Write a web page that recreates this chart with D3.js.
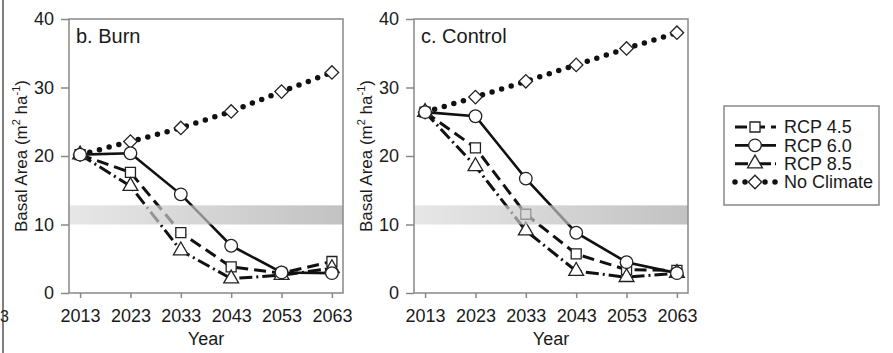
<!DOCTYPE html>
<html>
<head>
<meta charset="utf-8">
<script src="https://cdn.jsdelivr.net/npm/d3@7"></script>
<style>
  body { margin: 0; background: #fff; }
  svg { font-family: "Liberation Sans", Arial, sans-serif; }
</style>
</head>
<body>
<div id="chart"></div>
<script>
// years on x, basal area on y
const years = [2013, 2023, 2033, 2043, 2053, 2063];
const yTicks = [0, 10, 20, 30, 40];

const seriesNames = ["RCP 4.5", "RCP 6.0", "RCP 8.5", "No Climate"];

// b. Burn
const burnRcp45 = [20.2, 17.6, 8.8, 3.8, 2.9, 4.6];
const burnRcp60 = [20.2, 20.4, 14.4, 6.9, 3.0, 2.9];
const burnRcp85 = [20.2, 15.6, 6.2, 2.1, 2.6, 3.6];
const burnNoClim = [20.2, 22.1, 24.1, 26.5, 29.4, 32.2];

// c. Control
const ctrlRcp45 = [26.4, 21.2, 11.5, 5.7, 3.4, 3.3];
const ctrlRcp60 = [26.4, 25.8, 16.7, 8.8, 4.5, 2.9];
const ctrlRcp85 = [26.4, 18.5, 9.1, 3.2, 2.3, 2.9];
const ctrlNoClim = [26.4, 28.6, 30.9, 33.3, 35.7, 38.0];

// target band
const band = [10, 12.8];

const svgWidth = 893, svgHeight = 353;

const svg = d3.select("#chart").append("svg")
    .attr("width", svgWidth)
    .attr("height", svgHeight);

const defs = svg.append("defs");
const grad = defs.append("linearGradient").attr("id", "bandGrad")
    .attr("x1", "0%").attr("x2", "100%").attr("y1", "0%").attr("y2", "0%");
grad.append("stop").attr("offset", "0%").attr("stop-color", "#dddddd");
grad.append("stop").attr("offset", "100%").attr("stop-color", "#a8a8a8");

// line styles per series
const styles = {
    "RCP 4.5": {dash: "12,6", width: 3, cap: "butt", marker: d3.symbolSquare, size: 100, rot: 0},
    "RCP 6.0": {dash: null, width: 2.6, cap: "butt", marker: d3.symbolCircle, size: 125, rot: 0},
    "RCP 8.5": {dash: "13,4,2,4", width: 3, cap: "butt", marker: d3.symbolTriangle, size: 95, rot: 0},
    "No Climate": {dash: "0,10", width: 5.5, cap: "round", marker: d3.symbolSquare, size: 90, rot: 45}
};

// thin left border from the cropped figure
svg.append("line").attr("x1", 3).attr("x2", 3).attr("y1", 0).attr("y2", svgHeight)
    .attr("stroke", "#555").attr("stroke-width", 1.5);
svg.append("text").attr("x", 0).attr("y", 322).attr("font-size", 16).attr("fill", "#222").text("3");

function drawPanel(left, title, data) {
    const width = 274, top = 19, bottom = 293;
    const x = d3.scaleLinear().domain([2010.8, 2065.2]).range([left, left + width]);
    const y = d3.scaleLinear().domain([0, 40]).range([bottom, top]);

    const g = svg.append("g");

    // lines
    const line = d3.line().x((d, i) => x(years[i])).y(d => y(d));
    const order = ["No Climate", "RCP 4.5", "RCP 8.5", "RCP 6.0"];
    order.forEach(name => {
        const s = styles[name];
        g.append("path")
            .attr("d", line(data[name]))
            .attr("fill", "none")
            .attr("stroke", "#111")
            .attr("stroke-width", s.width)
            .attr("stroke-linecap", s.cap)
            .attr("stroke-dasharray", s.dash);
    });
    order.forEach(name => {
        const s = styles[name];
        g.selectAll(null).data(data[name]).enter().append("path")
            .attr("transform", (d, i) => `translate(${x(years[i])},${y(d)}) rotate(${s.rot})`)
            .attr("d", d3.symbol().type(s.marker).size(s.size))
            .attr("fill", "#fff")
            .attr("stroke", "#222")
            .attr("stroke-width", 1.3);
    });

    // grey band over the lines
    g.append("rect")
        .attr("x", left).attr("width", width)
        .attr("y", y(band[1])).attr("height", y(band[0]) - y(band[1]))
        .attr("fill", "url(#bandGrad)")
        .attr("opacity", 0.7);

    // frame
    g.append("rect").attr("x", left).attr("y", top).attr("width", width).attr("height", bottom - top)
        .attr("fill", "none").attr("stroke", "#888").attr("stroke-width", 1.5);

    const xAxis = g.append("g").attr("transform", `translate(0,${bottom})`)
        .call(d3.axisBottom(x).tickValues(years).tickFormat(d3.format("d")).tickSize(5).tickSizeOuter(0).tickPadding(12));
    xAxis.select(".domain").remove();
    const yAxis = g.append("g").attr("transform", `translate(${left},0)`)
        .call(d3.axisLeft(y).tickValues(yTicks).tickSize(8).tickSizeOuter(0).tickPadding(7));
    yAxis.select(".domain").remove();
    g.selectAll(".tick line").attr("stroke", "#888").attr("stroke-width", 1.5);
    g.selectAll(".tick text").attr("font-size", 18).attr("fill", "#1a1a1a")
        .attr("font-family", "Liberation Sans, Arial, sans-serif");
    xAxis.selectAll(".tick text").attr("dy", "0.68em");

    g.append("text").attr("x", left + 7).attr("y", 43)
        .attr("font-size", 20).attr("fill", "#1a1a1a").text(title);

    g.append("text")
        .attr("x", left + width / 2).attr("y", 345)
        .attr("text-anchor", "middle").attr("font-size", 18).attr("fill", "#1a1a1a")
        .text("Year");

    const yl = g.append("text")
        .attr("transform", `translate(${left - 42},${(top + bottom) / 2}) rotate(-90)`)
        .attr("text-anchor", "middle").attr("font-size", 17).attr("fill", "#1a1a1a");
    yl.append("tspan").text("Basal Area (m");
    yl.append("tspan").attr("font-size", 11).attr("dy", -7).text("2");
    yl.append("tspan").attr("dy", 7).text(" ha");
    yl.append("tspan").attr("font-size", 11).attr("dy", -7).text("-1");
    yl.append("tspan").attr("dy", 7).text(")");
}

drawPanel(69, "b. Burn", {
    "RCP 4.5": burnRcp45, "RCP 6.0": burnRcp60, "RCP 8.5": burnRcp85, "No Climate": burnNoClim
});
drawPanel(414, "c. Control", {
    "RCP 4.5": ctrlRcp45, "RCP 6.0": ctrlRcp60, "RCP 8.5": ctrlRcp85, "No Climate": ctrlNoClim
});

// legend
const legend = svg.append("g");
legend.append("rect").attr("x", 724).attr("y", 106).attr("width", 155).attr("height", 99)
    .attr("fill", "#fff").attr("stroke", "#888").attr("stroke-width", 1.5);
const rowY = d3.scalePoint().domain(seriesNames).range([127, 182]);
seriesNames.forEach(name => {
    const s = styles[name];
    const yy = rowY(name);
    legend.append("line").attr("x1", 735).attr("x2", 776).attr("y1", yy).attr("y2", yy)
        .attr("stroke", "#111").attr("stroke-width", s.width)
        .attr("stroke-linecap", s.cap).attr("stroke-dasharray", s.dash);
    legend.append("path").attr("transform", `translate(755,${yy}) rotate(${s.rot})`)
        .attr("d", d3.symbol().type(s.marker).size(s.size))
        .attr("fill", "#fff").attr("stroke", "#222").attr("stroke-width", 1.3);
    legend.append("text").attr("x", 784).attr("y", yy).attr("dy", "0.36em")
        .attr("font-size", 18).attr("fill", "#1a1a1a").text(name);
});
</script>
</body>
</html>
